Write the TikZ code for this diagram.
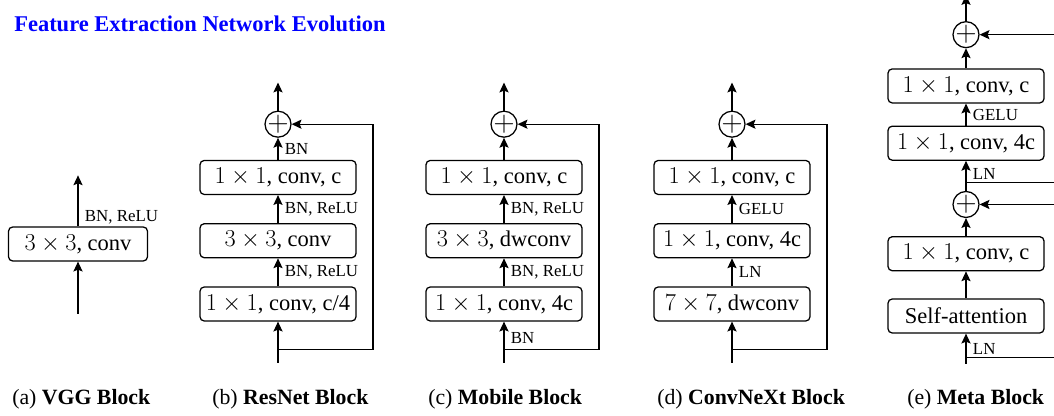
\documentclass[tikz,border=0pt]{standalone}
\usepackage[no-math]{fontspec}
\setmainfont{Liberation Serif}
\usepackage{tikz}
\usetikzlibrary{arrows.meta,positioning}
\definecolor{titleblue}{RGB}{0,0,255}

\begin{document}
\begin{tikzpicture}[
  block/.style={draw, rounded corners=3pt, line width=0.9pt,
    minimum width=3.9cm, minimum height=0.85cm, inner sep=2pt,
    font=\fontsize{16}{18}\selectfont},
  add/.style={draw, circle, line width=0.9pt, minimum size=0.65cm, inner sep=0pt,
    label={[font=\fontsize{20}{20}\selectfont, inner sep=0pt]center:$+$}},
  arr/.style={-{Stealth[length=7pt,width=6.5pt,inset=1.3pt]}, line width=0.9pt},
  lbl/.style={font=\fontsize{12}{14}\selectfont, inner sep=1.5pt},
  subcap/.style={font=\fontsize{15.5}{18}\selectfont, anchor=base west, inner sep=0pt},
  ttl/.style={font=\fontsize{16}{19}\selectfont\bfseries, text=titleblue,
    anchor=base west, inner sep=0pt}
]
  \useasboundingbox (0,0) rectangle (26.35,10.4);

  \node[ttl] (title) at (0.35,9.6) {Feature Extraction Network Evolution};

  % (a) plain conv
  \node[block, minimum width=3.475cm] (a1) at (1.95,4.3) {$3\times3$, conv};
  \coordinate[below=1.3cm of a1] (ain);
  \coordinate[above=1.275cm of a1] (aout);
  \draw[arr] (ain) -- (a1);
  \draw[arr] (a1) -- node[lbl, pos=0, anchor=south west, xshift=3pt]{BN, ReLU} (aout);

  % (b) bottleneck with shortcut
  \node[block] (b1) at (6.95,2.8) {$1\times1$, conv, c/4};
  \node[block, above=0.7cm of b1] (b2) {$3\times3$, conv};
  \node[block, above=0.7cm of b2] (b3) {$1\times1$, conv, c};
  \node[add, above=0.55cm of b3] (badd) {};
  \coordinate[below=1.025cm of b1] (bin);
  \coordinate[above=0.325cm of bin] (bbr);
  \coordinate[above=0.7cm of badd] (bout);
  \draw[arr] (bin) -- (b1);
  \draw[arr] (b1) -- node[lbl, right=3pt]{BN, ReLU} (b2);
  \draw[arr] (b2) -- node[lbl, right=3pt]{BN, ReLU} (b3);
  \draw[arr] (b3) -- node[lbl, right=3pt]{BN} (badd);
  \draw[arr] (badd) -- (bout);
  \draw[arr] (bbr) -- ++(2.375,0) |- (badd);

  % (c) inverted bottleneck
  \node[block] (c1) at (12.6,2.8) {$1\times1$, conv, 4c};
  \node[block, above=0.7cm of c1] (c2) {$3\times3$, dwconv};
  \node[block, above=0.7cm of c2] (c3) {$1\times1$, conv, c};
  \node[add, above=0.55cm of c3] (cadd) {};
  \coordinate[below=1.025cm of c1] (cin);
  \coordinate[above=0.325cm of cin] (cbr);
  \coordinate[above=0.7cm of cadd] (cout);
  \draw[arr] (cin) -- node[lbl, right=3pt, pos=0.6]{BN} (c1);
  \draw[arr] (c1) -- node[lbl, right=3pt]{BN, ReLU} (c2);
  \draw[arr] (c2) -- node[lbl, right=3pt]{BN, ReLU} (c3);
  \draw[arr] (c3) -- (cadd);
  \draw[arr] (cadd) -- (cout);
  \draw[arr] (cbr) -- ++(2.375,0) |- (cadd);

  % (d) convnext
  \node[block] (d1) at (18.3,2.8) {$7\times7$, dwconv};
  \node[block, above=0.7cm of d1] (d2) {$1\times1$, conv, 4c};
  \node[block, above=0.7cm of d2] (d3) {$1\times1$, conv, c};
  \node[add, above=0.55cm of d3] (dadd) {};
  \coordinate[below=1.025cm of d1] (din);
  \coordinate[above=0.325cm of din] (dbr);
  \coordinate[above=0.7cm of dadd] (dout);
  \draw[arr] (din) -- (d1);
  \draw[arr] (d1) -- node[lbl, right=3pt]{LN} (d2);
  \draw[arr] (d2) -- node[lbl, right=3pt]{GELU} (d3);
  \draw[arr] (d3) -- (dadd);
  \draw[arr] (dadd) -- (dout);
  \draw[arr] (dbr) -- ++(2.375,0) |- (dadd);

  % (e) metaformer, two shortcuts
  \node[block] (e1) at (24.15,2.5) {Self-attention};
  \node[block, above=0.675cm of e1] (e2) {$1\times1$, conv, c};
  \node[add, above=0.45cm of e2] (eadd1) {};
  \node[block, above=0.75cm of eadd1] (e3) {$1\times1$, conv, 4c};
  \node[block, above=0.55cm of e3] (e4) {$1\times1$, conv, c};
  \node[add, above=0.5cm of e4] (eadd2) {};
  \coordinate[below=0.75cm of e1] (ein);
  \coordinate[above=0.15cm of ein] (ebr1);
  \coordinate[above=0.2cm of eadd1] (ebr2);
  \coordinate[above=0.65cm of eadd2] (eout);
  \draw[arr] (ein) -- node[lbl, right=3pt]{LN} (e1);
  \draw[arr] (e1) -- (e2);
  \draw[arr] (e2) -- (eadd1);
  \draw[arr] (eadd1) -- node[lbl, right=3pt, pos=0.55]{LN} (e3);
  \draw[arr] (e3) -- node[lbl, right=3pt]{GELU} (e4);
  \draw[arr] (e4) -- (eadd2);
  \draw[arr] (eadd2) -- (eout);
  \draw[arr] (ebr1) -- ++(2.375,0) |- (eadd1);
  \draw[arr] (ebr2) -- ++(2.375,0) |- (eadd2);

  % sub-captions
  \node[subcap] (acap) at (0.3,0.275)    {(a) \textbf{VGG Block}};
  \node[subcap] (bcap) at (5.3,0.275)    {(b) \textbf{ResNet Block}};
  \node[subcap] (ccap) at (10.7,0.275)   {(c) \textbf{Mobile Block}};
  \node[subcap] (dcap) at (16.425,0.275) {(d) \textbf{ConvNeXt Block}};
  \node[subcap] (ecap) at (22.675,0.275) {(e) \textbf{Meta Block}};
\end{tikzpicture}
\end{document}
